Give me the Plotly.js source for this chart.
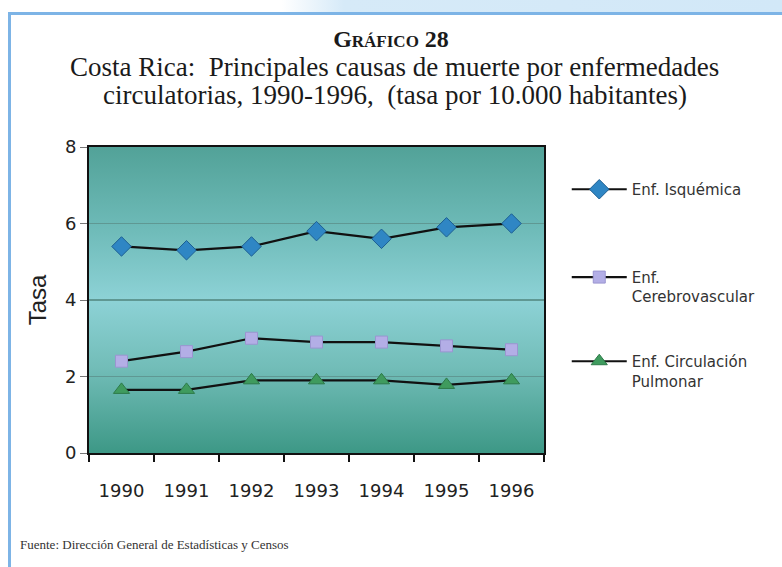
<!DOCTYPE html>
<html>
<head>
<meta charset="utf-8">
<script src="https://cdn.plot.ly/plotly-3.0.1.min.js"></script>
<style>
  html, body { margin: 0; padding: 0; background: #ffffff; }
  #wrap { position: relative; width: 782px; height: 567px; overflow: hidden;
          background: linear-gradient(to right, #ffffff 0%, #ffffff 36%, #d6eaf8 44%, #d2e8f8 100%); }
  #frame { position: absolute; left: 8px; top: 12px; width: 790px; height: 560px;
           background: #ffffff; border-left: 3px solid #7db4e6; border-top: 3px solid #7db4e6; }
  #chart { position: absolute; left: 0; top: 0; width: 782px; height: 567px; }
</style>
</head>
<body>
<div id="wrap">
  <div id="frame"></div>
  <div id="chart"></div>
</div>
<script>
// ---- data ----
const years = ['1990', '1991', '1992', '1993', '1994', '1995', '1996'];
const isquemica = [5.4, 5.3, 5.4, 5.8, 5.6, 5.9, 6.0];
const cerebrovascular = [2.4, 2.65, 3.0, 2.9, 2.9, 2.8, 2.7];
const pulmonar = [1.65, 1.65, 1.9, 1.9, 1.9, 1.78, 1.9];
const seriesNames = ['Enf. Isquémica', 'Enf.<br>Cerebrovascular', 'Enf. Circulación<br>Pulmonar'];
const yTicks = [0, 2, 4, 6, 8];
const titleLines = [
  "<b>G<span style='font-size:17px'>RÁFICO</span> 28</b>",
  'Costa Rica:\u00a0\u00a0Principales causas de muerte por enfermedades',
  'circulatorias, 1990-1996,\u00a0\u00a0(tasa por 10.000 habitantes)'
];
const sourceText = 'Fuente: Dirección General de Estadísticas y Censos';

const sansFont = 'DejaVu Sans, sans-serif';
const serifFont = 'Liberation Serif, Times New Roman, serif';

const gradSvg = "<svg xmlns='http://www.w3.org/2000/svg' width='100' height='100' preserveAspectRatio='none'>" +
  "<defs><linearGradient id='g' x1='0' y1='0' x2='0' y2='1'>" +
  "<stop offset='0' stop-color='#52a298'/>" +
  "<stop offset='0.25' stop-color='#6cb9b6'/>" +
  "<stop offset='0.5' stop-color='#8dd2d6'/>" +
  "<stop offset='0.72' stop-color='#72bdb8'/>" +
  "<stop offset='1' stop-color='#3d9886'/>" +
  "</linearGradient></defs><rect width='100' height='100' fill='url(#g)'/></svg>";
const gradUri = 'data:image/svg+xml;charset=utf-8,' + encodeURIComponent(gradSvg);

function trace(y, name, symbol, color, edge, size, legendId) {
  return {
    x: years, y: y, name: name, type: 'scatter', mode: 'lines+markers',
    legend: legendId,
    line: { color: '#111111', width: 2.2 },
    marker: { symbol: symbol, size: size, color: color, line: { color: edge, width: 1 } }
  };
}

const data = [
  trace(isquemica, seriesNames[0], 'diamond', '#2f86c4', '#1d5f92', 15, 'legend'),
  trace(cerebrovascular, seriesNames[1], 'square', '#b3aee6', '#9a95d0', 12, 'legend2'),
  trace(pulmonar, seriesNames[2], 'triangle-up', '#3f9b5e', '#2c7a48', 14, 'legend3')
];

function legendAt(yPaper) {
  return {
    x: 1.05, xanchor: 'left', xref: 'paper',
    y: yPaper, yanchor: 'top', yref: 'paper',
    font: { family: sansFont, size: 15, color: '#333333' },
    itemwidth: 55,
    valign: 'top',
    bgcolor: 'rgba(0,0,0,0)'
  };
}

const layout = {
  width: 782, height: 567,
  paper_bgcolor: 'rgba(0,0,0,0)',
  plot_bgcolor: 'rgba(0,0,0,0)',
  margin: { l: 89, r: 238, t: 147, b: 114 },
  showlegend: true,
  title: {
    text: titleLines[0],
    font: { family: serifFont, size: 24, color: '#1a1a1a' },
    x: 0.5, xref: 'container', xanchor: 'center',
    y: 0.932, yref: 'container', yanchor: 'middle'
  },
  xaxis: {
    type: 'category',
    range: [-0.5, 6.5],
    tickson: 'boundaries',
    ticks: 'outside', ticklen: 7, tickwidth: 2, tickcolor: '#111111',
    ticklabelstandoff: 20,
    showline: true, linecolor: '#111111', linewidth: 2, mirror: true,
    showgrid: false, zeroline: false,
    tickfont: { family: sansFont, size: 18, color: '#222222' },
    fixedrange: true
  },
  yaxis: {
    range: [0, 8],
    tickvals: yTicks,
    ticks: 'outside', ticklen: 7, tickwidth: 1, tickcolor: '#777777',
    showline: true, linecolor: '#111111', linewidth: 2, mirror: true,
    showgrid: true, gridcolor: '#5f9893', gridwidth: 1.2,
    zeroline: false,
    tickfont: { family: sansFont, size: 18, color: '#222222' },
    title: { text: 'Tasa', font: { family: 'Liberation Sans Narrow, Liberation Sans, sans-serif', size: 24, color: '#222222' }, standoff: 12 },
    fixedrange: true
  },
  legend: legendAt(0.915),
  legend2: legendAt(0.628),
  legend3: legendAt(0.353),
  images: [{
    source: gradUri, xref: 'paper', yref: 'paper',
    x: 0, y: 1, sizex: 1, sizey: 1, xanchor: 'left', yanchor: 'top',
    sizing: 'stretch', layer: 'below'
  }],
  annotations: [
    {
      text: titleLines[1], xref: 'paper', yref: 'paper', x: 0.672, y: 1.262,
      xanchor: 'center', yanchor: 'middle', showarrow: false,
      font: { family: serifFont, size: 27, color: '#1a1a1a' }
    },
    {
      text: titleLines[2], xref: 'paper', yref: 'paper', x: 0.672, y: 1.171,
      xanchor: 'center', yanchor: 'middle', showarrow: false,
      font: { family: serifFont, size: 27, color: '#1a1a1a' }
    },
    {
      text: sourceText,
      xref: 'paper', yref: 'paper', x: -0.157, y: -0.30,
      xanchor: 'left', yanchor: 'middle', showarrow: false,
      font: { family: serifFont, size: 13, color: '#333333' }
    }
  ]
};

Plotly.newPlot('chart', data, layout, { displayModeBar: false, staticPlot: true });
</script>
</body>
</html>
